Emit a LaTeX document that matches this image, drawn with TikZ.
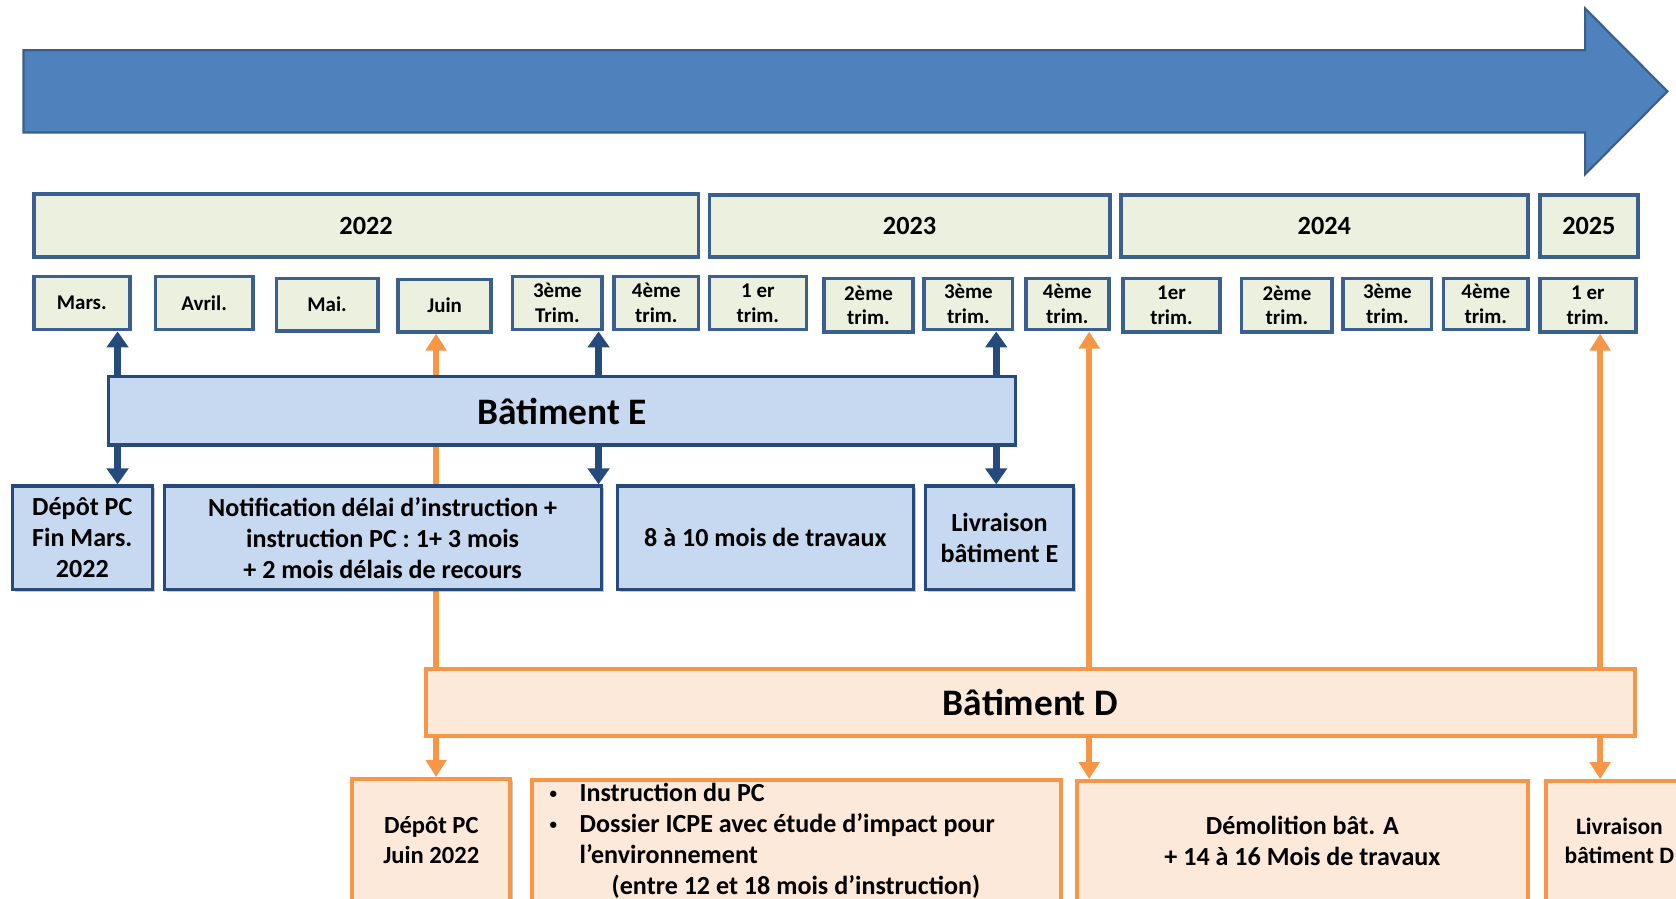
\documentclass[tikz,border=0pt]{standalone}
\usepackage{fontspec}
\setmainfont{Carlito}
\usetikzlibrary{arrows.meta,shadows}
\pgfdeclarelayer{bg}
\pgfdeclarelayer{paper}
\pgfsetlayers{paper,bg,main}
\definecolor{arrowfill}{HTML}{4F81BD}
\definecolor{arrowline}{HTML}{3A5F8B}
\definecolor{calfill}{HTML}{EBF1DE}
\definecolor{calline}{HTML}{3B6090}
\definecolor{efill}{HTML}{C6D9F1}
\definecolor{eline}{HTML}{254B7C}
\definecolor{dfill}{HTML}{FDE9D9}
\definecolor{dline}{HTML}{F79646}
\tikzset{
  yearbox/.style={draw=calline, fill=calfill, line width=1.7pt, inner sep=0pt,
    font=\bfseries\fontsize{12.3}{14}\selectfont},
  monthbox/.style={draw=calline, fill=calfill, line width=1.7pt, inner sep=0pt, align=center,
    font=\bfseries\fontsize{9.8}{11.5}\selectfont},
  eshadow/.style={drop shadow={shadow xshift=1.2pt, shadow yshift=-1.2pt, opacity=0.3, fill=black!70}},
  ebox/.style={draw=eline, fill=efill, line width=1.5pt, inner sep=0pt, align=center,
    font=\bfseries\fontsize{12.2}{14.5}\selectfont, eshadow},
  ebig/.style={draw=eline, fill=efill, line width=1.5pt, inner sep=0pt,
    font=\bfseries\fontsize{17.5}{20}\selectfont},
  dbox/.style={draw=dline, fill=dfill, line width=1.7pt, inner sep=0pt, align=center,
    font=\bfseries\fontsize{11.5}{14}\selectfont, eshadow},
  dbig/.style={draw=dline, fill=dfill, line width=1.7pt, inner sep=0pt,
    font=\bfseries\fontsize{17.5}{20}\selectfont},
  listtext/.style={inner sep=0pt, align=left, font=\bfseries\fontsize{12.2}{14.4}\selectfont},
  barrow/.style={draw=eline, line width=3.2pt, {Triangle[width=10pt,length=7.5pt]}-{Triangle[width=10pt,length=7.5pt]}},
  oarrow/.style={draw=dline, line width=2.6pt, {Triangle[width=9.5pt,length=8pt]}-{Triangle[width=9.5pt,length=8pt]}},
}
\newcommand\bx[7]{\node[#1, minimum width={(#4-#2)*0.5pt-1.6pt}, minimum height={(#5-#3)*0.5pt-1.6pt}] (#6) at ({(#2+#4)/2},{(#3+#5)/2}) {#7};}
\newcommand\blt{\makebox[14pt][l]{\raisebox{0.25ex}{\fontsize{7}{7}\selectfont\textbullet}}}
\begin{document}
\begin{tikzpicture}[x=0.5pt,y=-0.5pt]
\clip (0,0) rectangle (1568,841);
\begin{pgfonlayer}{paper}
\fill[white] (0,0) rectangle (1568,841);
\end{pgfonlayer}
% big timeline arrow
\draw[fill=arrowfill, draw=arrowline, line width=1pt, line join=miter]
  (22,47) -- (1483,47) -- (1483,8) -- (1560,85.5) -- (1483,163) -- (1483,124) -- (22,124) -- cycle;
% years
\bx{yearbox}{30}{180}{655}{242}{y22}{2022}
\bx{yearbox}{662}{181}{1040}{242}{y23}{2023}
\bx{yearbox}{1047}{181}{1431}{242}{y24}{2024}
\bx{yearbox}{1439}{181}{1534}{242}{y25}{2025}
% months / quarters
\bx{monthbox}{30}{257}{123}{310}{m1}{Mars.}
\bx{monthbox}{144}{257}{238}{310}{m2}{Avril.}
\bx{monthbox}{257}{259}{355}{311}{m3}{Mai.}
\bx{monthbox}{371}{260}{461}{312}{m4}{Juin}
\bx{monthbox}{478}{257}{565}{310}{m5}{3ème\\Trim.}
\bx{monthbox}{573}{257}{655}{310}{m6}{4ème\\trim.}
\bx{monthbox}{662}{257}{756}{310}{m7}{1 er\\trim.}
\bx{monthbox}{769}{259}{856}{312}{m8}{2ème\\trim.}
\bx{monthbox}{863}{259}{949}{310}{m9}{3ème\\trim.}
\bx{monthbox}{958}{259}{1039}{310}{m10}{4ème\\trim.}
\bx{monthbox}{1049}{259}{1143}{312}{m11}{1er\\trim.}
\bx{monthbox}{1160}{259}{1248}{312}{m12}{2ème\\trim.}
\bx{monthbox}{1255}{259}{1341}{310}{m13}{3ème\\trim.}
\bx{monthbox}{1349}{259}{1431}{310}{m14}{4ème\\trim.}
\bx{monthbox}{1439}{259}{1532}{312}{m15}{1 er\\trim.}
% Batiment E
\bx{ebig}{100}{351}{952}{418}{batE}{Bâtiment E}
\bx{ebox}{10}{453}{144}{553}{depE}{Dépôt PC\\Fin Mars.\\2022}
\bx{ebox}{152}{453}{564}{553}{notif}{Notification délai d’instruction +\\instruction PC : 1+ 3 mois\\+ 2 mois délais de recours}
\bx{ebox}{576}{453}{856}{553}{trav}{8 à 10 mois de travaux}
\bx{ebox}{864}{453}{1006}{553}{livE}{Livraison\\bâtiment E}
% Batiment D
\bx{dbig}{397}{624}{1531}{690}{batD}{Bâtiment D}
\bx{dbox}{328}{727}{479}{845}{depD}{Dépôt PC\\Juin 2022}
\bx{dbox}{496}{728}{994}{845}{instr}{}
\node[listtext, anchor=west] (instrtext) at ([xshift=9pt]instr.west)
  {\blt Instruction du PC\\
   \blt Dossier ICPE avec étude d’impact pour\\
   \hspace*{14pt}l’environnement\\
   \hspace*{29pt}(entre 12 et 18 mois d’instruction)};
\bx{dbox,font=\bfseries\fontsize{12.2}{14.4}\selectfont}{1006}{729}{1431}{845}{demo}{Démolition bât. A\\+ 14 à 16 Mois de travaux}
\bx{dbox,font=\bfseries\fontsize{11}{13.5}\selectfont}{1445}{729}{1585}{845}{livD}{Livraison\\bâtiment D}
% connectors
\coordinate (xa) at (110,0);
\coordinate (xb) at (560,0);
\coordinate (xc) at (932,0);
\coordinate (xd) at (408,0);
\coordinate (xe) at (1019,0);
\coordinate (xf) at (1497,0);
\begin{pgfonlayer}{bg}
\draw[barrow] (xa |- m1.south) -- (xa |- depE.north);
\draw[barrow] (xb |- m5.south) -- (xb |- notif.north);
\draw[barrow] (xc |- m9.south) -- (xc |- livE.north);
\draw[oarrow] (xd |- m4.south) -- (xd |- depD.north);
\draw[oarrow] (xe |- m10.south) -- (xe |- demo.north);
\draw[oarrow] (xf |- m15.south) -- (xf |- livD.north);
\end{pgfonlayer}
\end{tikzpicture}
\end{document}
